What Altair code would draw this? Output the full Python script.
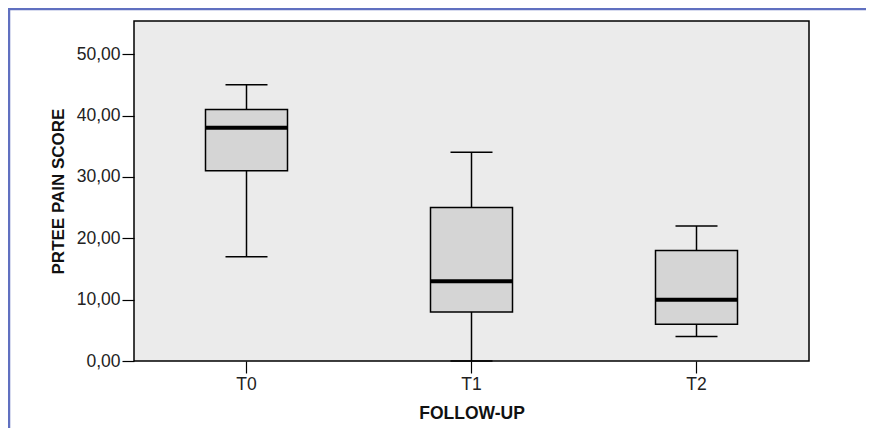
import altair as alt
import pandas as pd

# Data
categories = ["T0", "T1", "T2"]
whisker_low = [17, 0, 4]
q1 = [31, 8, 6]
median = [38, 13, 10]
q3 = [41, 25, 18]
whisker_high = [45, 34, 22]

y_ticks = [0, 10, 20, 30, 40, 50]

df = pd.DataFrame({
    "cat": categories,
    "wmin": whisker_low,
    "q1": q1,
    "median": median,
    "q3": q3,
    "wmax": whisker_high,
})

FONT = "Liberation Sans"
W, H = 675, 340
PAD_L, PAD_T, PAD_R, PAD_B = 126, 13, 57, 67

x_enc = alt.X(
    "cat:N",
    sort=categories,
    scale=alt.Scale(paddingInner=0, paddingOuter=0),
    axis=alt.Axis(
        title="FOLLOW-UP",
        labelAngle=0,
        labelFont=FONT,
        labelFontSize=17.5,
        labelColor="#222222",
        labelPadding=2,
        tickSize=12,
        tickColor="black",
        tickWidth=1.2,
        domain=False,
        titleFont=FONT,
        titleFontSize=17.5,
        titleFontWeight="bold",
        titleColor="#111111",
        titleX=W / 2,
        titleY=52,
        titleBaseline="middle",
        titleAlign="center",
    ),
)

y_scale = alt.Scale(domain=[0, 55.4], nice=False, zero=True)
y_axis = alt.Axis(
    title="PRTEE PAIN SCORE",
    values=y_ticks,
    labelExpr="replace(format(datum.value, '.2f'), '.', ',')",
    labelFont=FONT,
    labelFontSize=17.5,
    labelColor="#222222",
    labelPadding=2,
    tickSize=12,
    tickColor="black",
    tickWidth=1.2,
    domain=False,
    grid=False,
    titleFont=FONT,
    titleFontSize=17,
    titleFontWeight="bold",
    titleColor="#111111",
    titleAngle=-90,
    titleX=-76,
    titleY=H / 2,
    titleBaseline="middle",
    titleAlign="center",
)

base = alt.Chart(df).encode(x=x_enc)

whiskers = base.mark_rule(color="black", strokeWidth=1.5).encode(
    y=alt.Y("wmin:Q", scale=y_scale, axis=y_axis),
    y2="wmax:Q",
)
boxes = base.mark_bar(size=82, fill="#d5d5d5", stroke="black", strokeWidth=1.5).encode(
    y=alt.Y("q1:Q", scale=y_scale),
    y2="q3:Q",
)
medians = base.mark_tick(size=82, thickness=4, color="black", orient="horizontal", opacity=1).encode(
    y=alt.Y("median:Q", scale=y_scale),
)
cap_hi = base.mark_tick(size=42, thickness=1.5, color="black", orient="horizontal", opacity=1).encode(
    y=alt.Y("wmax:Q", scale=y_scale),
)
cap_lo = base.mark_tick(size=42, thickness=1.5, color="black", orient="horizontal", opacity=1).encode(
    y=alt.Y("wmin:Q", scale=y_scale),
)

frame_data = alt.Data(values=[{"k": 1}])
frame_left = alt.Chart(frame_data).mark_rule(color="#6070c0", strokeWidth=2.5).encode(
    x=alt.value(-PAD_L + 1),
    y=alt.value(-PAD_T),
    y2=alt.value(H + PAD_B),
)
frame_top = alt.Chart(frame_data).mark_rule(color="#6070c0", strokeWidth=2.5).encode(
    x=alt.value(-PAD_L),
    x2=alt.value(W + PAD_R),
    y=alt.value(-PAD_T + 1),
)

chart = alt.layer(
    whiskers, boxes, medians, cap_hi, cap_lo, frame_left, frame_top
).properties(
    width=W,
    height=H,
    autosize=alt.AutoSizeParams(type="none"),
    padding={"left": PAD_L, "top": PAD_T, "right": PAD_R, "bottom": PAD_B},
    background="white",
).configure_view(
    fill="#ebebeb",
    stroke="black",
    strokeWidth=1.5,
)

chart.save("out.html", embed_options={"renderer": "svg", "actions": False})
